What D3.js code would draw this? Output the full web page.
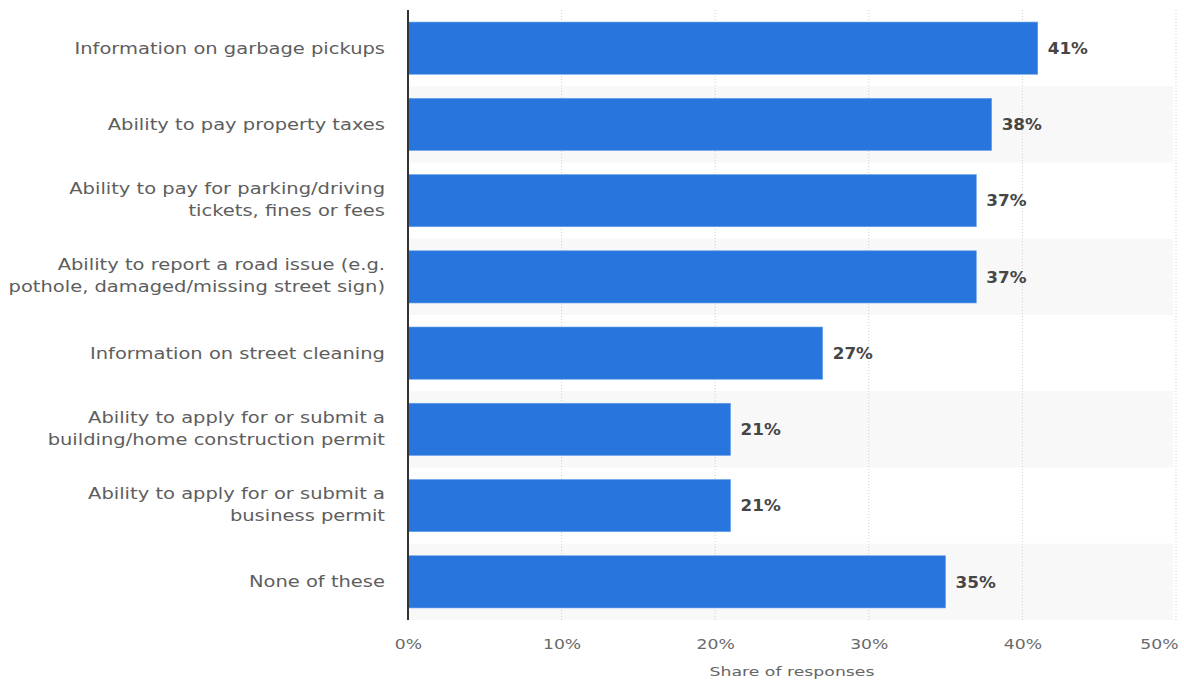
<!DOCTYPE html>
<html>
<head>
<meta charset="utf-8">
<script src="https://cdn.jsdelivr.net/npm/d3@7"></script>
<style>
  html, body { margin: 0; padding: 0; background: #fff; }
  svg { display: block; font-family: "DejaVu Sans", Verdana, sans-serif; }
</style>
</head>
<body>
<svg id="chart" width="1184" height="681"></svg>
<script>
// Survey answers: which municipal services people want online
const categories = [
  ["Information on garbage pickups"],
  ["Ability to pay property taxes"],
  ["Ability to pay for parking/driving", "tickets, fines or fees"],
  ["Ability to report a road issue (e.g.", "pothole, damaged/missing street sign)"],
  ["Information on street cleaning"],
  ["Ability to apply for or submit a", "building/home construction permit"],
  ["Ability to apply for or submit a", "business permit"],
  ["None of these"]
];
const values = [41, 38, 37, 37, 27, 21, 21, 35];
const xTicks = [0, 10, 20, 30, 40, 50];
const xTitle = "Share of responses";

const svg = d3.select("#chart");
const margin = { top: 10, bottom: 61, left: 408 };
const W = 1184, H = 681;
const plotW = 1176 - margin.left;
const plotH = H - margin.top - margin.bottom;

// the typeface is drawn wide, so text is stretched horizontally
const wide = { cat: 1.3, tick: 1.23, title: 1.33, val: 1.12 };

const g = svg.append("g").attr("transform", `translate(${margin.left},${margin.top})`);

const x = d3.scaleLinear().domain([0, 50]).range([0, plotW]);
const y = d3.scaleBand().domain(d3.range(categories.length)).range([0, plotH]).paddingInner(0.315).paddingOuter(0.158);
const band = d3.scaleBand().domain(d3.range(categories.length)).range([0, plotH]);

// alternating row shading
g.selectAll("rect.stripe")
  .data(d3.range(categories.length).filter(i => i % 2 === 1))
  .join("rect")
  .attr("class", "stripe")
  .attr("x", 0)
  .attr("y", i => band(i))
  .attr("width", x(50) - 3)
  .attr("height", band.bandwidth())
  .attr("fill", "#f8f8f8");

// dotted vertical gridlines
g.selectAll("line.grid")
  .data(xTicks.filter(t => t > 0))
  .join("line")
  .attr("class", "grid")
  .attr("x1", d => x(d)).attr("x2", d => x(d))
  .attr("y1", 0).attr("y2", plotH)
  .attr("stroke", "#cfcfcf")
  .attr("stroke-width", 1)
  .attr("stroke-dasharray", "1,2");

// bars
g.selectAll("rect.bar")
  .data(values)
  .join("rect")
  .attr("class", "bar")
  .attr("x", 0)
  .attr("y", (d, i) => y(i))
  .attr("width", d => x(d))
  .attr("height", y.bandwidth())
  .attr("fill", "#2876dd")
  .attr("stroke", "#6aa3ea")
  .attr("stroke-width", 0.6);

// value labels
g.selectAll("g.val")
  .data(values)
  .join("g")
  .attr("class", "val")
  .attr("transform", (d, i) => `translate(${x(d) + 10},${y(i) + y.bandwidth() / 2}) scale(${wide.val},1)`)
  .append("text")
  .attr("dy", "0.38em")
  .attr("font-size", 15)
  .attr("font-weight", "bold")
  .attr("fill", "#464646")
  .text(d => d + "%");

// category labels
g.selectAll("g.cat")
  .data(categories)
  .join("g")
  .attr("class", "cat")
  .attr("transform", (d, i) => `translate(-23,${y(i) + y.bandwidth() / 2}) scale(${wide.cat},1)`)
  .each(function(lines) {
    const t = d3.select(this).append("text")
      .attr("text-anchor", "end")
      .attr("font-size", 15)
      .attr("fill", "#5e5e5e");
    const lh = 22;
    const off = lines.length > 1 ? -12 : 0;
    lines.forEach((ln, k) => {
      t.append("tspan").attr("x", 0).attr("y", off + k * lh).attr("dy", "0.36em").text(ln);
    });
  });

// left axis line
g.append("line")
  .attr("x1", 0).attr("x2", 0)
  .attr("y1", 0).attr("y2", plotH)
  .attr("stroke", "#333")
  .attr("stroke-width", 2);

// bottom axis tick labels, stretched about their own anchor
const xAxis = d3.axisBottom(x).tickValues(xTicks).tickFormat(d => d + "%").tickSize(0).tickPadding(0);
const ax = g.append("g").attr("transform", `translate(0,${plotH})`).call(xAxis);
ax.select(".domain").remove();
ax.selectAll(".tick text")
  .attr("y", 29)
  .attr("dy", 0)
  .attr("font-family", "\"DejaVu Sans\", Verdana, sans-serif")
  .attr("font-size", 14)
  .attr("fill", "#6a6a6a")
  .attr("text-anchor", d => d === 50 ? "end" : "middle")
  .attr("transform", d => d === 50 ? `translate(2,0) scale(${wide.tick},1)` : `scale(${wide.tick},1)`);

// axis title
svg.append("g")
  .attr("transform", `translate(${margin.left + plotW / 2},676) scale(${wide.title},1)`)
  .append("text")
  .attr("text-anchor", "middle")
  .attr("font-size", 13)
  .attr("fill", "#666")
  .text(xTitle);
</script>
</body>
</html>
